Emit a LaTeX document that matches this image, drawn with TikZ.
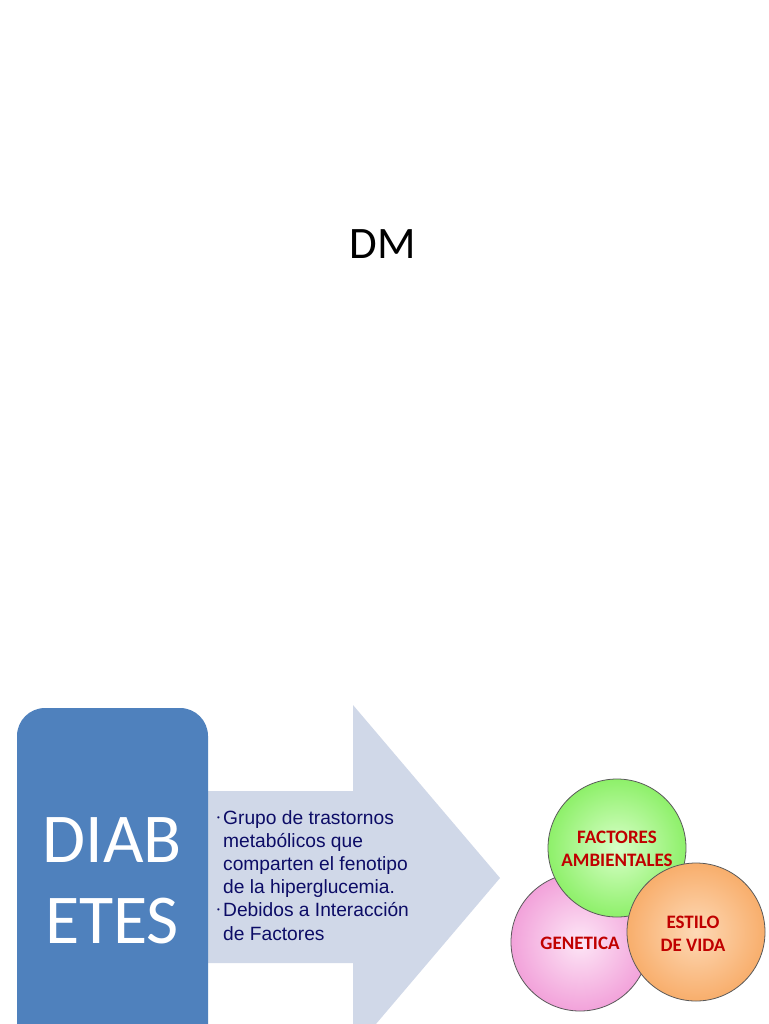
\documentclass[tikz,border=0pt]{standalone}
\usepackage{fontspec}
\setmainfont{Carlito}
\newfontfamily\arialf{Liberation Sans}
\definecolor{dblue}{HTML}{4F81BD}
\definecolor{arrowc}{HTML}{D0D8E8}
\definecolor{navyt}{HTML}{0C0C66}
\definecolor{redt}{HTML}{C00000}
\definecolor{greenO}{HTML}{8EF06A}
\definecolor{greenI}{HTML}{D8FFC8}
\definecolor{pinkO}{HTML}{F2A2DA}
\definecolor{pinkI}{HTML}{FDE6F6}
\definecolor{orO}{HTML}{F8AE6C}
\definecolor{orI}{HTML}{FDD9B6}
\newcommand{\mybul}{\makebox[8pt][l]{\hspace*{2pt}\raisebox{4pt}{\fontsize{8}{8}\selectfont\textbullet}}}
\begin{document}
\begin{tikzpicture}[x=1pt,y=-1pt,
  circ/.style={circle,draw=black!65,line width=0.8pt,minimum size=138pt,inner sep=0pt,shading=radial},
  clabel/.style={text=redt,font=\fontsize{19}{23}\selectfont\bfseries,align=center},
  bigw/.style={text=white,font=\fontsize{70}{81}\selectfont},
]
\useasboundingbox (0,0) rectangle (768,1024);
\clip (0,0) rectangle (768,1024);
\fill[white] (0,0) rectangle (768,1024);
% title
\node[font=\fontsize{45}{50}\selectfont] (title) at (383,244) {DM};
% arrow
\fill[arrowc] (195,791) -- (353,791) -- (353,705) -- (500,878) -- (353,1051) -- (353,963) -- (195,963) -- cycle;
% blue box
\fill[dblue,rounded corners=28pt] (17,708) rectangle (208,1080);
\node[bigw,anchor=base] (diab) at (112,862) {DIAB};
\node[bigw,anchor=base] (etes) at (112,943) {ETES};
% bullet text
\node[anchor=north west,inner sep=0pt,text=navyt,font=\arialf\fontsize{19.2}{23.2}\selectfont,align=left] (txt) at (215,810)
{\mybul Grupo de trastornos\\
\hspace*{8pt}metabólicos que\\
\hspace*{8pt}comparten el fenotipo\\
\hspace*{8pt}de la hiperglucemia.\\
\mybul Debidos a Interacción\\
\hspace*{8pt}de Factores};
% circles
\node[circ,inner color=pinkI,outer color=pinkO] (gen) at (580,942) {};
\node[circ,inner color=greenI,outer color=greenO] (amb) at (617,848) {};
\node[circ,inner color=orI,outer color=orO] (est) at (696,932) {};
\node[clabel] (genl) at (580,943) {GENETICA};
\node[clabel] (ambl) at (617,849) {FACTORES\\AMBIENTALES};
\node[clabel] (estl) at (693,934) {ESTILO\\DE VIDA};
\end{tikzpicture}
\end{document}
